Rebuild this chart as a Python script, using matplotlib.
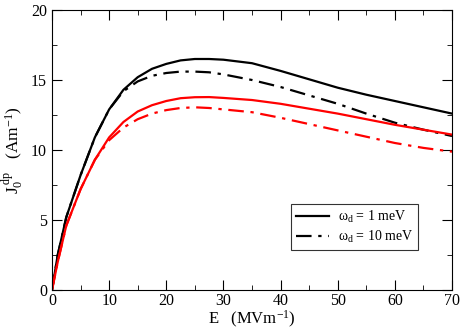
import numpy as np
import matplotlib.pyplot as plt
from matplotlib.ticker import MultipleLocator

plt.rcParams['font.family'] = ['Liberation Serif', 'DejaVu Serif']
plt.rcParams['mathtext.fontset'] = 'custom'
plt.rcParams['mathtext.rm'] = 'Liberation Serif'
plt.rcParams['mathtext.it'] = 'Liberation Serif:italic'

E = [0, 1, 2.5, 5, 7.5, 10, 12.5, 15, 17.5, 20, 22.5, 25, 27.5, 30,
     35, 40, 45, 50, 55, 60, 65, 70]
black_1 = [0, 2.5, 5.2, 8.2, 10.9, 12.9, 14.3, 15.2, 15.8, 16.15, 16.4, 16.5, 16.5, 16.45,
           16.2, 15.65, 15.05, 14.45, 13.95, 13.5, 13.05, 12.6]
black_10 = [0, 2.5, 5.2, 8.2, 10.9, 12.9, 14.2, 14.9, 15.3, 15.5, 15.6, 15.6, 15.55, 15.4,
            15.0, 14.5, 13.9, 13.3, 12.6, 11.95, 11.45, 11.0]
red_1 = [0, 2.0, 4.6, 7.2, 9.3, 10.9, 12.0, 12.75, 13.2, 13.5, 13.7, 13.77, 13.78, 13.72,
         13.57, 13.3, 12.95, 12.6, 12.2, 11.8, 11.45, 11.1]
red_10 = [0, 2.0, 4.6, 7.2, 9.3, 10.7, 11.6, 12.2, 12.6, 12.85, 13.0, 13.05, 13.0, 12.9,
          12.7, 12.3, 11.85, 11.4, 10.95, 10.5, 10.15, 9.88]

dashdot = (0, (7, 3, 1.5, 3))

fig = plt.figure(figsize=(4.63, 3.33), dpi=100)
ax = fig.add_axes([52/463, 1-290/333, 400/463, 280/333])

l1, = ax.plot(E, black_1, color='black', lw=1.6)
l2, = ax.plot(E, black_10, color='black', lw=1.6, linestyle=dashdot)
ax.plot(E, red_1, color='red', lw=1.6)
ax.plot(E, red_10, color='red', lw=1.6, linestyle=dashdot)

ax.set_xlim(0, 70)
ax.set_ylim(0, 20)
ax.xaxis.set_major_locator(MultipleLocator(10))
ax.xaxis.set_minor_locator(MultipleLocator(5))
ax.yaxis.set_major_locator(MultipleLocator(5))
ax.yaxis.set_minor_locator(MultipleLocator(2.5))
ax.tick_params(which='both', direction='in', top=True, right=True, labelsize=11.5)
ax.tick_params(axis='x', pad=2)
ax.tick_params(which='major', length=7)
ax.tick_params(which='minor', length=3.5)

ax.set_xlabel(r'E   (MVm$^{\mathregular{-1}}$)', fontsize=12, labelpad=0)
ax.set_ylabel(r'$\mathregular{J_0^{\ dp}}$   (Am$^{\mathregular{-1}}$)', fontsize=12.5, labelpad=4)

leg = ax.legend([l1, l2], [r'$\mathregular{\omega_d}$ = 1 meV', r'$\mathregular{\omega_d}$ = 10 meV'],
                loc='lower right', bbox_to_anchor=(0.915, 0.143), borderaxespad=0,
                fontsize=10, frameon=True, fancybox=False, edgecolor='black',
                handlelength=2.4, handletextpad=0.6, borderpad=0.35, labelspacing=0.3)
leg.get_frame().set_linewidth(0.8)

fig.savefig('out.png', dpi=100)
